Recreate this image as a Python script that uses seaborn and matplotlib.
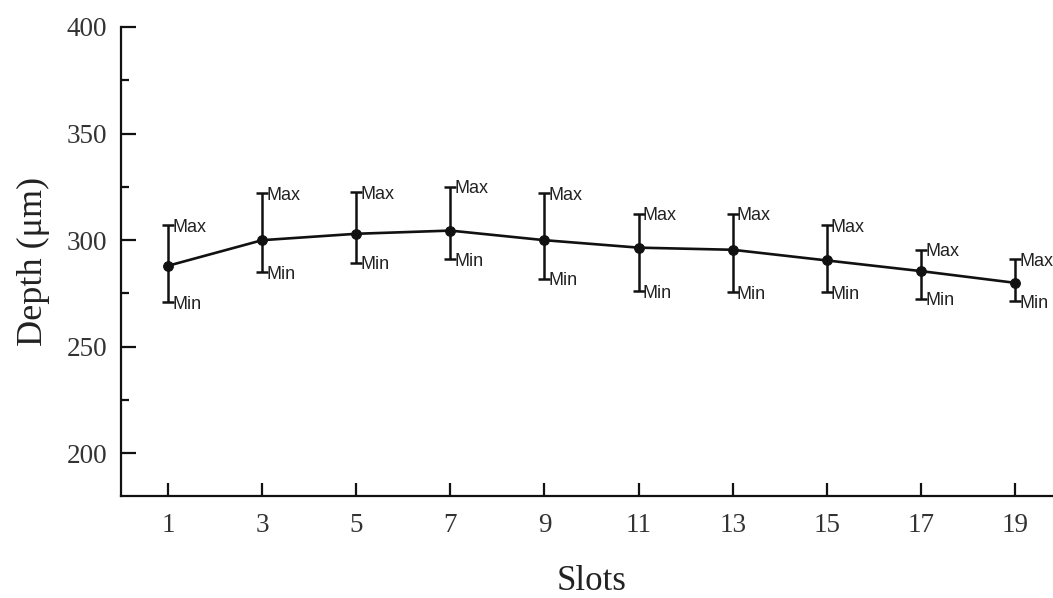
import matplotlib
matplotlib.use("Agg")
import matplotlib.pyplot as plt
import seaborn as sns
import pandas as pd
from matplotlib.ticker import MultipleLocator

# Data
slots = [1, 3, 5, 7, 9, 11, 13, 15, 17, 19]
depth_mean = [288, 300, 303, 304.5, 300, 296.5, 295.5, 290.5, 285.5, 280]
depth_max = [307, 322, 322.5, 325, 322, 312.5, 312.5, 307, 295.5, 291]
depth_min = [271, 285, 289.5, 291, 282, 276, 275.5, 275.5, 272.5, 271.5]
x_ticks = [1, 3, 5, 7, 9, 11, 13, 15, 17, 19]
y_ticks = [200, 250, 300, 350, 400]

df = pd.DataFrame({"Slots": slots, "Depth": depth_mean})

sns.set_theme(style="ticks")
plt.rcParams["font.family"] = ["Liberation Serif", "DejaVu Serif"]

fig = plt.figure(figsize=(10.53, 5.98), dpi=100)
ax = fig.add_axes([121 / 1053, 102 / 598, 941 / 1053, 469 / 598])

err_lo = [m - lo for m, lo in zip(depth_mean, depth_min)]
err_hi = [hi - m for m, hi in zip(depth_mean, depth_max)]
ax.errorbar(slots, depth_mean, yerr=[err_lo, err_hi], fmt="none",
            ecolor="#111111", elinewidth=1.8, capsize=4.5, capthick=1.8, zorder=2)
sns.lineplot(data=df, x="Slots", y="Depth", ax=ax, color="#111111",
             linewidth=1.9, marker="o", markersize=7,
             markeredgecolor="#111111", markerfacecolor="#111111", zorder=3)

for x, hi, lo in zip(slots, depth_max, depth_min):
    ax.annotate("Max", (x, hi), xytext=(3, -1.5), textcoords="offset points",
                ha="left", va="center", fontsize=13,
                family=["Liberation Sans", "DejaVu Sans"], color="#222222",
                annotation_clip=False)
    ax.annotate("Min", (x, lo), xytext=(3, -1.5), textcoords="offset points",
                ha="left", va="center", fontsize=13,
                family=["Liberation Sans", "DejaVu Sans"], color="#222222",
                annotation_clip=False)

ax.set_xlim(0, 20)
ax.set_ylim(180, 400)
ax.set_xticks(x_ticks)
ax.set_yticks(y_ticks)
ax.yaxis.set_minor_locator(MultipleLocator(25))

ax.set_xlabel("Slots", fontsize=25, labelpad=20, color="#222222")
ax.set_ylabel("Depth (μm)", fontsize=26, labelpad=12, color="#222222")

ax.tick_params(axis="both", which="major", direction="in", width=1.6,
               labelsize=19.5, colors="#111111", labelcolor="#333333")
ax.tick_params(axis="y", which="major", length=11, pad=10)
ax.tick_params(axis="y", which="minor", direction="in", length=6, width=1.6,
               color="#111111")
ax.tick_params(axis="x", which="major", length=9.5, pad=12)

sns.despine(ax=ax, top=True, right=True)
for s in ("left", "bottom"):
    ax.spines[s].set_linewidth(1.6)
    ax.spines[s].set_color("#111111")

fig.savefig("out.png", dpi=100)
